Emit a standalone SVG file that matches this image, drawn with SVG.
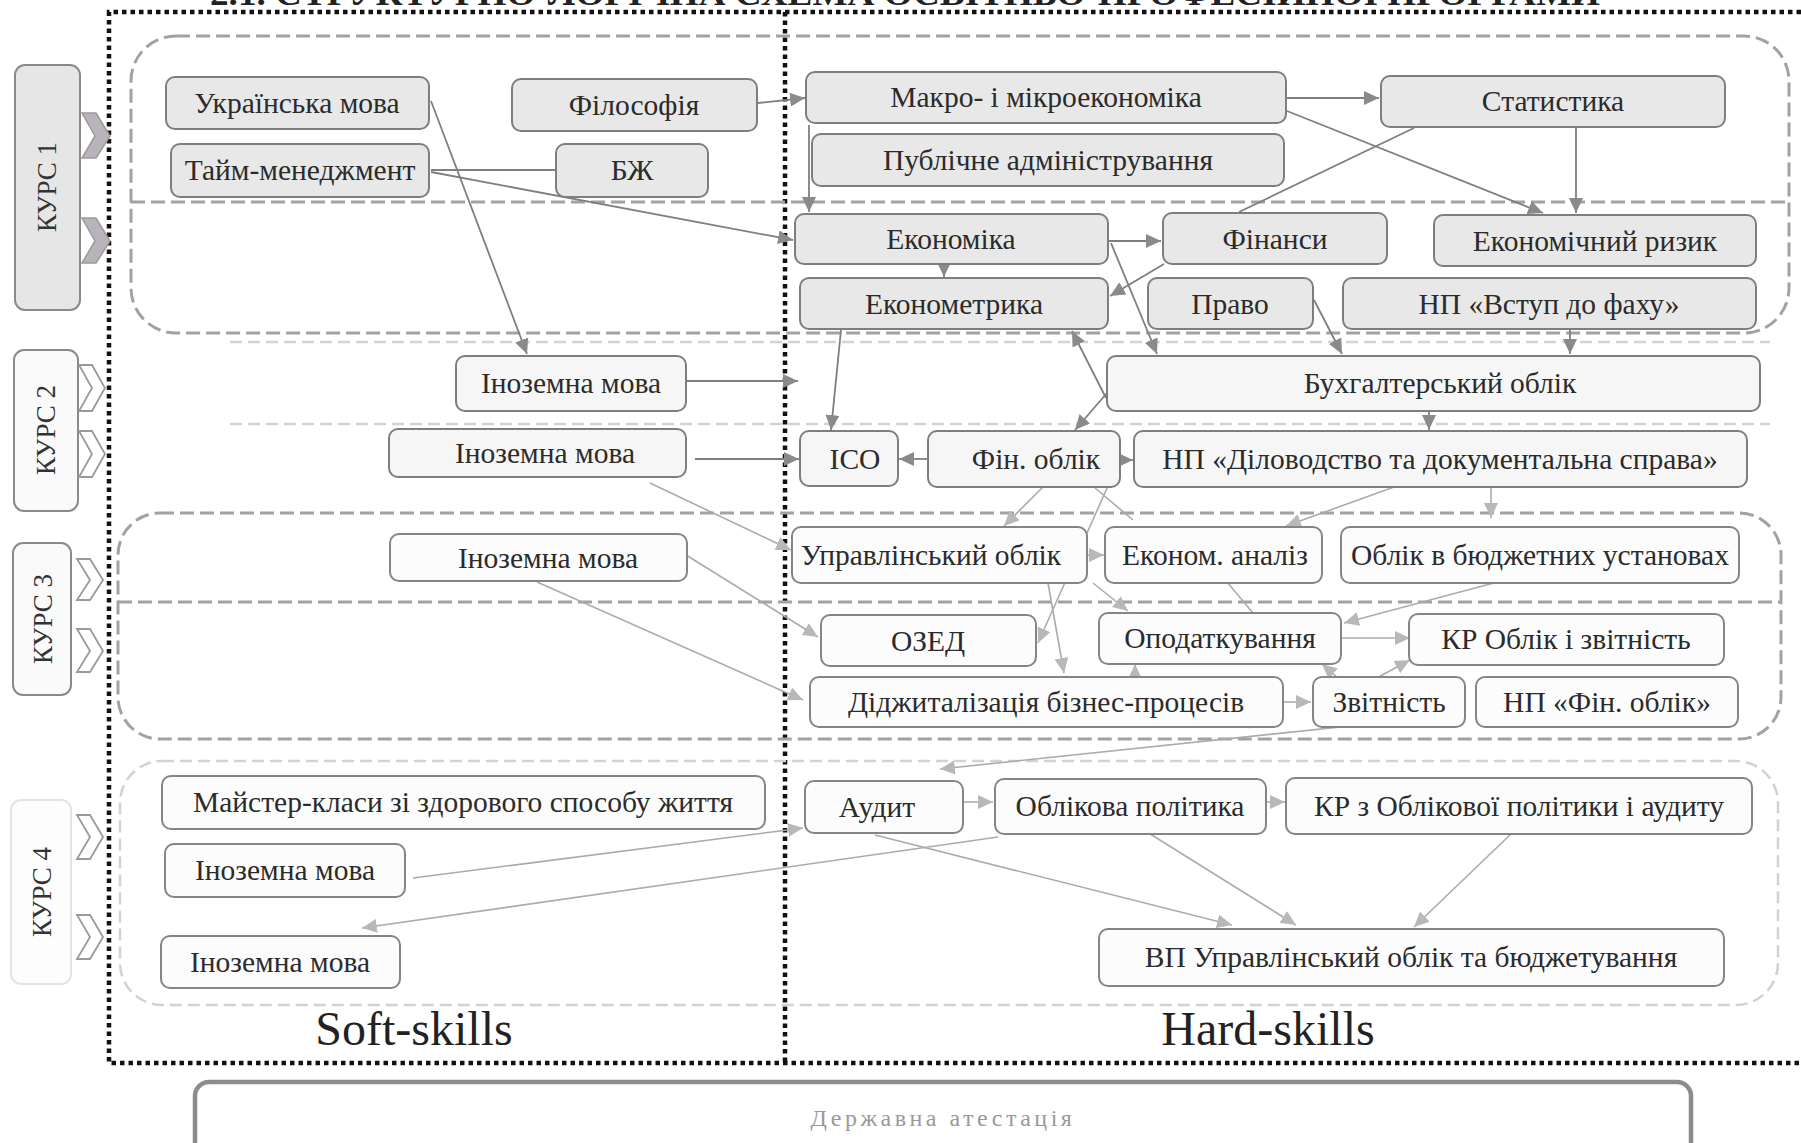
<svg xmlns="http://www.w3.org/2000/svg" width="1801" height="1143" viewBox="0 0 1801 1143">
<style>
text{font-family:"Liberation Serif","Times New Roman",serif;}
.b1 rect{fill:#e8e8e8;stroke:#7e7e7e;stroke-width:2;}
.b2 rect{fill:#f6f6f6;stroke:#7e7e7e;stroke-width:2;}
.b3 rect{fill:#fcfcfc;stroke:#858585;stroke-width:2;}
.t{font-size:29.5px;fill:#2b2b2b;text-anchor:middle;}
.kurs rect{stroke:#8a8a8a;stroke-width:2;}
.kt{font-size:27px;fill:#333;text-anchor:middle;}
.dot{fill:none;stroke:#111;stroke-width:4.5;stroke-dasharray:4.5 4;}
.reg{fill:none;stroke:#a4a0a6;stroke-width:3;stroke-dasharray:14 6;}
.regf{fill:none;stroke:#d2d2d2;stroke-width:2.5;stroke-dasharray:12 6;}
.dk{stroke:#7f7f7f;stroke-width:1.8;fill:none;}
.lt{stroke:#ababab;stroke-width:1.6;fill:none;}
.chf{fill:#b9b4bc;stroke:#9a9a9a;stroke-width:1.5;}
.cho{fill:#fff;stroke:#9a9a9a;stroke-width:1.8;}
.skill{font-size:48px;fill:#222;text-anchor:middle;}
</style>
<defs>
<marker id="ad" markerUnits="userSpaceOnUse" markerWidth="16" markerHeight="14" refX="15" refY="7" orient="auto"><path d="M0,0 L15,7 L0,14 z" fill="#8a8a8a"/></marker>
<marker id="al" markerUnits="userSpaceOnUse" markerWidth="16" markerHeight="14" refX="15" refY="7" orient="auto"><path d="M0,0 L15,7 L0,14 z" fill="#b8b8b8"/></marker>
</defs>
<rect width="1801" height="1143" fill="#ffffff"/>
<text x="905" y="5" text-anchor="middle" font-weight="bold" font-size="34" fill="#222" textLength="1390" lengthAdjust="spacingAndGlyphs">2.1. СТРУКТУРНО-ЛОГІЧНА СХЕМА ОСВІТНЬО-ПРОФЕСІЙНОЇ ПРОГРАМИ</text>

<g id="frame">
<path class="dot" d="M1801,12 L109,12 L109,1063 L1801,1063"/>
<path class="dot" d="M785,12 L785,1063"/>
</g>

<g id="regions">
<rect class="reg" x="131" y="36" width="1658" height="297" rx="45"/>
<line class="reg" x1="131" y1="202" x2="1789" y2="202"/>
<line class="regf" x1="230" y1="342" x2="1770" y2="342"/>
<line class="regf" x1="230" y1="424" x2="1770" y2="424"/>
<rect class="reg" x="118" y="513" width="1663" height="226" rx="42"/>
<line class="reg" x1="118" y1="602" x2="1781" y2="602"/>
<rect class="regf" x="120" y="761" width="1658" height="244" rx="42"/>
</g>

<g id="courses">
<g id="kurs1" class="kurs"><rect x="15" y="65" width="65" height="245" rx="10" fill="#e6e6e6"/><text class="kt" transform="translate(56,187) rotate(-90)">КУРС 1</text>
<polygon class="chf" points="82,113 96,113 110,136 96,158 82,158 95,136"/><polygon class="chf" points="82,218 96,218 110,241 96,263 82,263 95,241"/></g>
<g id="kurs2" class="kurs"><rect x="14" y="350" width="64" height="161" rx="10" fill="#fafafa"/><text class="kt" transform="translate(55,430) rotate(-90)">КУРС 2</text>
<polygon class="cho" points="79,365 92,365 105,388 92,411 79,411 92,388"/><polygon class="cho" points="79,431 92,431 105,454 92,477 79,477 92,454"/></g>
<g id="kurs3" class="kurs"><rect x="13" y="543" width="58" height="152" rx="10" fill="#fafafa"/><text class="kt" transform="translate(52,619) rotate(-90)">КУРС 3</text>
<polygon class="cho" points="77,559 90,559 103,580 90,600 77,600 90,580"/><polygon class="cho" points="77,629 90,629 103,651 90,672 77,672 90,651"/></g>
<g id="kurs4" class="kurs"><rect x="11" y="800" width="60" height="184" rx="10" fill="#fdfdfd" style="stroke:#e4e4e4"/><text class="kt" transform="translate(51,892) rotate(-90)">КУРС 4</text>
<polygon class="cho" points="77,815 90,815 103,837 90,859 77,859 90,837"/><polygon class="cho" points="77,915 90,915 103,937 90,959 77,959 90,937"/></g>
</g>

<g id="connectors">
<line class="dk" x1="758" y1="103" x2="805" y2="98" marker-end="url(#ad)"/>
<line class="dk" x1="1287" y1="98" x2="1379" y2="98" marker-end="url(#ad)"/>
<line class="dk" x1="1287" y1="111" x2="1543" y2="213" marker-end="url(#ad)"/>
<line class="dk" x1="1576" y1="128" x2="1576" y2="213" marker-end="url(#ad)"/>
<line class="dk" x1="1239" y1="212" x2="1414" y2="128"/>
<line class="dk" x1="809" y1="125" x2="809" y2="212" marker-end="url(#ad)"/>
<line class="dk" x1="431" y1="170" x2="556" y2="170"/>
<line class="dk" x1="431" y1="172" x2="793" y2="240" marker-end="url(#ad)"/>
<line class="dk" x1="431" y1="101" x2="527" y2="354" marker-end="url(#ad)"/>
<line class="dk" x1="1108" y1="241" x2="1161" y2="241" marker-end="url(#ad)"/>
<line class="dk" x1="944" y1="262" x2="944" y2="277" marker-end="url(#ad)"/>
<line class="dk" x1="1164" y1="264" x2="1110" y2="296" marker-end="url(#ad)"/>
<line class="dk" x1="1111" y1="243" x2="1157" y2="354" marker-end="url(#ad)"/>
<line class="dk" x1="1314" y1="300" x2="1342" y2="354" marker-end="url(#ad)"/>
<line class="dk" x1="1570" y1="330" x2="1570" y2="354" marker-end="url(#ad)"/>
<line class="dk" x1="1106" y1="398" x2="1072" y2="331" marker-end="url(#ad)"/>
<line class="dk" x1="1107" y1="393" x2="1075" y2="430" marker-end="url(#ad)"/>
<line class="dk" x1="1429" y1="411" x2="1429" y2="430" marker-end="url(#ad)"/>
<line class="dk" x1="841" y1="330" x2="831" y2="430" marker-end="url(#ad)"/>
<line class="dk" x1="686" y1="381" x2="798" y2="381" marker-end="url(#ad)"/>
<line class="dk" x1="695" y1="459" x2="799" y2="459" marker-end="url(#ad)"/>
<line class="dk" x1="928" y1="459" x2="899" y2="459" marker-end="url(#ad)"/>
<line class="dk" x1="1120" y1="460" x2="1133" y2="460" marker-end="url(#ad)"/>
<line class="lt" x1="650" y1="483" x2="791" y2="550" marker-end="url(#al)"/>
<line class="lt" x1="1043" y1="487" x2="1004" y2="526" marker-end="url(#al)"/>
<line class="lt" x1="1108" y1="486" x2="1038" y2="643" marker-end="url(#al)"/>
<line class="lt" x1="1095" y1="488" x2="1133" y2="520"/>
<line class="lt" x1="1394" y1="487" x2="1286" y2="526" marker-end="url(#al)"/>
<line class="lt" x1="1491" y1="488" x2="1491" y2="518" marker-end="url(#al)"/>
<line class="lt" x1="1087" y1="555" x2="1104" y2="555" marker-end="url(#al)"/>
<line class="lt" x1="1093" y1="583" x2="1128" y2="611" marker-end="url(#al)"/>
<line class="lt" x1="1048" y1="583" x2="1064" y2="673" marker-end="url(#al)"/>
<line class="lt" x1="1227" y1="582" x2="1253" y2="613"/>
<line class="lt" x1="1505" y1="580" x2="1344" y2="623" marker-end="url(#al)"/>
<line class="lt" x1="1342" y1="638" x2="1410" y2="638" marker-end="url(#al)"/>
<line class="lt" x1="1373" y1="680" x2="1410" y2="660" marker-end="url(#al)"/>
<line class="lt" x1="1338" y1="678" x2="1322" y2="664" marker-end="url(#al)"/>
<line class="lt" x1="1135" y1="678" x2="1135" y2="664" marker-end="url(#al)"/>
<line class="lt" x1="1284" y1="702" x2="1311" y2="702" marker-end="url(#al)"/>
<line class="lt" x1="1388" y1="722" x2="940" y2="769" marker-end="url(#al)"/>
<line class="lt" x1="413" y1="878" x2="803" y2="828" marker-end="url(#al)"/>
<line class="lt" x1="998" y1="837" x2="362" y2="928" marker-end="url(#al)"/>
<line class="lt" x1="963" y1="802" x2="993" y2="802" marker-end="url(#al)"/>
<line class="lt" x1="1266" y1="802" x2="1285" y2="802" marker-end="url(#al)"/>
<line class="lt" x1="875" y1="835" x2="1232" y2="925" marker-end="url(#al)"/>
<line class="lt" x1="1147" y1="832" x2="1296" y2="925" marker-end="url(#al)"/>
<line class="lt" x1="1511" y1="834" x2="1414" y2="927" marker-end="url(#al)"/>
<line class="lt" x1="686" y1="555" x2="818" y2="637" marker-end="url(#al)"/>
<line class="lt" x1="537" y1="582" x2="803" y2="700" marker-end="url(#al)"/>
</g>

<g id="n-ua" class="b1"><rect x="166" y="77" width="263" height="52" rx="9"/><text class="t" x="297" y="113">Українська мова</text></g>
<g id="n-tm" class="b1"><rect x="171" y="144" width="258" height="53" rx="9"/><text class="t" x="300" y="180">Тайм-менеджмент</text></g>
<g id="n-ph" class="b1"><rect x="512" y="79" width="245" height="52" rx="9"/><text class="t" x="634" y="115">Філософія</text></g>
<g id="n-bz" class="b1"><rect x="556" y="144" width="152" height="53" rx="9"/><text class="t" x="632" y="180">БЖ</text></g>
<g id="n-ma" class="b1"><rect x="806" y="72" width="480" height="51" rx="9"/><text class="t" x="1046" y="107">Макро- і мікроекономіка</text></g>
<g id="n-pa" class="b1"><rect x="812" y="134" width="472" height="52" rx="9"/><text class="t" x="1048" y="170">Публічне адміністрування</text></g>
<g id="n-st" class="b1"><rect x="1381" y="76" width="344" height="51" rx="9"/><text class="t" x="1553" y="111">Статистика</text></g>
<g id="n-ek" class="b1"><rect x="795" y="214" width="313" height="50" rx="9"/><text class="t" x="951" y="249">Економіка</text></g>
<g id="n-fi" class="b1"><rect x="1163" y="213" width="224" height="51" rx="9"/><text class="t" x="1275" y="249">Фінанси</text></g>
<g id="n-er" class="b1"><rect x="1434" y="215" width="322" height="51" rx="9"/><text class="t" x="1595" y="251">Економічний ризик</text></g>
<g id="n-em" class="b1"><rect x="800" y="278" width="308" height="51" rx="9"/><text class="t" x="954" y="314">Економетрика</text></g>
<g id="n-pr" class="b1"><rect x="1148" y="278" width="165" height="51" rx="9"/><text class="t" x="1230" y="314">Право</text></g>
<g id="n-nv" class="b1"><rect x="1343" y="278" width="413" height="51" rx="9"/><text class="t" x="1549" y="314">НП «Вступ до фаху»</text></g>
<g id="n-im1" class="b2"><rect x="456" y="356" width="230" height="55" rx="9"/><text class="t" x="571" y="393">Іноземна мова</text></g>
<g id="n-bo" class="b2"><rect x="1107" y="356" width="653" height="55" rx="9"/><text class="t" x="1440" y="393">Бухгалтерський облік</text></g>
<g id="n-im2" class="b2"><rect x="389" y="429" width="297" height="48" rx="9"/><text class="t" x="545" y="463">Іноземна мова</text></g>
<g id="n-ico" class="b2"><rect x="800" y="431" width="98" height="55" rx="9"/><text class="t" x="855" y="469">ІСО</text></g>
<g id="n-fo" class="b2"><rect x="928" y="431" width="192" height="56" rx="9"/><text class="t" x="1036" y="469">Фін. облік</text></g>
<g id="n-nd" class="b2"><rect x="1134" y="431" width="613" height="56" rx="9"/><text class="t" x="1440" y="469">НП «Діловодство та документальна справа»</text></g>
<g id="n-im3" class="b3"><rect x="390" y="534" width="297" height="47" rx="9"/><text class="t" x="548" y="568">Іноземна мова</text></g>
<g id="n-uo" class="b3"><rect x="792" y="527" width="295" height="56" rx="9"/><text class="t" x="931" y="565">Управлінський облік</text></g>
<g id="n-ea" class="b3"><rect x="1105" y="527" width="217" height="56" rx="9"/><text class="t" x="1215" y="565">Економ. аналіз</text></g>
<g id="n-ob" class="b3"><rect x="1341" y="527" width="398" height="56" rx="9"/><text class="t" x="1540" y="565">Облік в бюджетних установах</text></g>
<g id="n-oz" class="b3"><rect x="821" y="615" width="215" height="51" rx="9"/><text class="t" x="928" y="651">ОЗЕД</text></g>
<g id="n-op" class="b3"><rect x="1099" y="613" width="242" height="51" rx="9"/><text class="t" x="1220" y="648">Оподаткування</text></g>
<g id="n-kr" class="b3"><rect x="1409" y="614" width="315" height="51" rx="9"/><text class="t" x="1566" y="649">КР Облік і звітність</text></g>
<g id="n-dg" class="b3"><rect x="810" y="677" width="473" height="50" rx="9"/><text class="t" x="1046" y="712">Діджиталізація бізнес-процесів</text></g>
<g id="n-zv" class="b3"><rect x="1313" y="677" width="152" height="50" rx="9"/><text class="t" x="1389" y="712">Звітність</text></g>
<g id="n-nf" class="b3"><rect x="1476" y="677" width="262" height="50" rx="9"/><text class="t" x="1607" y="712">НП «Фін. облік»</text></g>
<g id="n-mk" class="b3"><rect x="162" y="776" width="603" height="53" rx="9"/><text class="t" x="463" y="812">Майстер-класи зі здорового способу життя</text></g>
<g id="n-im4a" class="b3"><rect x="165" y="844" width="240" height="53" rx="9"/><text class="t" x="285" y="880">Іноземна мова</text></g>
<g id="n-im4b" class="b3"><rect x="161" y="936" width="239" height="52" rx="9"/><text class="t" x="280" y="972">Іноземна мова</text></g>
<g id="n-au" class="b3"><rect x="805" y="781" width="158" height="52" rx="9"/><text class="t" x="877" y="817">Аудит</text></g>
<g id="n-opo" class="b3"><rect x="995" y="779" width="271" height="55" rx="9"/><text class="t" x="1130" y="816">Облікова політика</text></g>
<g id="n-kra" class="b3"><rect x="1286" y="778" width="466" height="56" rx="9"/><text class="t" x="1519" y="816">КР з Облікової політики і аудиту</text></g>
<g id="n-vp" class="b3"><rect x="1099" y="929" width="625" height="57" rx="9"/><text class="t" x="1411" y="967">ВП Управлінський облік та бюджетування</text></g>

<text class="skill" x="414" y="1045">Soft-skills</text>
<text class="skill" x="1268" y="1045">Hard-skills</text>

<g id="n-da"><rect x="195" y="1082" width="1496" height="100" rx="14" fill="#fff" stroke="#8c8c8c" stroke-width="4.5"/><text x="943" y="1126" text-anchor="middle" font-size="24" letter-spacing="3.5" fill="#9a9a9a">Державна атестація</text></g>
</svg>
